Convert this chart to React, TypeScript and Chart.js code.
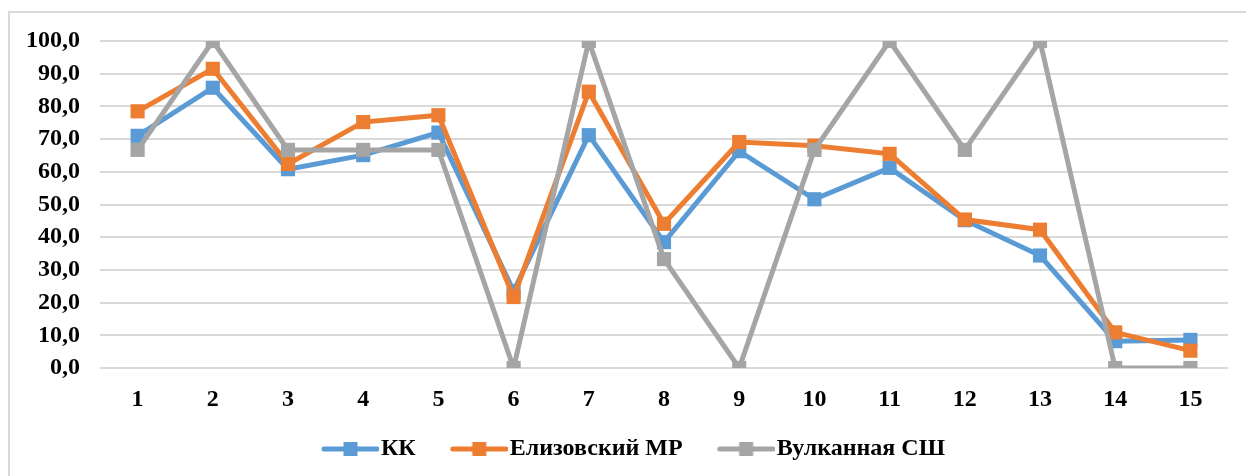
import React, { useEffect, useRef } from "react";
import { Chart, registerables } from "chart.js";

Chart.register(...registerables);

const categories = ["1", "2", "3", "4", "5", "6", "7", "8", "9", "10", "11", "12", "13", "14", "15"];
const seriesNames = ["КК", "Елизовский МР", "Вулканная СШ"];
const kkValues = [71.0, 85.7, 60.8, 65.1, 72.0, 23.5, 71.2, 38.5, 66.3, 51.6, 61.2, 45.2, 34.4, 8.2, 8.6];
const elizovskyValues = [78.5, 91.5, 62.4, 75.2, 77.3, 21.7, 84.5, 44.1, 69.1, 68.0, 65.5, 45.4, 42.3, 10.9, 5.3];
const vulkannayaValues = [66.7, 100, 66.7, 66.7, 66.7, 0, 100, 33.3, 0, 66.7, 100, 66.7, 100, 0, 0];
const yTickMin = 0;
const yTickMax = 100;
const yTickStep = 10;

const colors = ["#5B9BD5", "#ED7D31", "#A5A5A5"];
const FONT = "'Liberation Serif', 'Times New Roman', serif";

function legendIcon(color: string): HTMLCanvasElement {
  const c = document.createElement("canvas");
  c.width = 88;
  c.height = 20;
  const ctx = c.getContext("2d")!;
  ctx.strokeStyle = color;
  ctx.lineWidth = 5;
  ctx.lineCap = "round";
  ctx.beginPath();
  ctx.moveTo(33, 10);
  ctx.lineTo(86, 10);
  ctx.stroke();
  ctx.fillStyle = color;
  ctx.fillRect(59.5 - 7, 10 - 7, 14, 14);
  return c;
}

const borderPlugin = {
  id: "outerBorder",
  beforeDraw(chart: any) {
    const ctx = chart.ctx;
    ctx.save();
    ctx.fillStyle = "#ffffff";
    ctx.fillRect(0, 0, chart.width, chart.height);
    ctx.strokeStyle = "#d9d9d9";
    ctx.lineWidth = 2;
    ctx.beginPath();
    ctx.moveTo(9, chart.height + 5);
    ctx.lineTo(9, 12);
    ctx.lineTo(chart.width + 5, 12);
    ctx.stroke();
    ctx.restore();
  },
};

export default function App() {
  const ref = useRef<HTMLCanvasElement | null>(null);

  useEffect(() => {
    if (!ref.current) return;
    const icons = colors.map(legendIcon);
    const values = [kkValues, elizovskyValues, vulkannayaValues];
    const chart = new Chart(ref.current, {
      type: "line",
      data: {
        labels: categories,
        datasets: values.map((v, i) => ({
          label: seriesNames[i],
          data: v,
          borderColor: colors[i],
          backgroundColor: colors[i],
          borderWidth: 5,
          pointStyle: "rect",
          pointRadius: 10,
          pointBorderWidth: 0,
          pointBackgroundColor: colors[i],
          pointBorderColor: colors[i],
          tension: 0,
          fill: false,
          order: 2 - i,
        })),
      },
      options: {
        responsive: false,
        animation: false,
        events: [],
        layout: { padding: { top: 41, right: 18, bottom: 5, left: 18 } },
        scales: {
          x: {
            offset: true,
            grid: { display: false, drawTicks: false },
            border: { display: false },
            ticks: {
              color: "#000",
              padding: 17,
              font: { family: FONT, size: 24, weight: "bold" },
              maxRotation: 0,
              autoSkip: false,
            },
            afterFit: (scale: any) => {
              scale.height = 55;
            },
          },
          y: {
            min: yTickMin,
            max: yTickMax,
            grid: { color: "#d9d9d9", lineWidth: 2, drawTicks: false },
            border: { display: false },
            ticks: {
              stepSize: yTickStep,
              color: "#000",
              padding: 20,
              font: { family: FONT, size: 24, weight: "bold" },
              callback: (v: any) => Number(v).toFixed(1).replace(".", ","),
            },
            afterFit: (scale: any) => {
              scale.width = 82;
            },
          },
        },
        plugins: {
          tooltip: { enabled: false },
          legend: {
            position: "bottom",
            labels: {
              usePointStyle: true,
              pointStyleWidth: 68,
              padding: 14,
              color: "#000",
              font: { family: FONT, size: 24, weight: "bold" },
              generateLabels: (ch: any) =>
                ch.data.datasets.map((ds: any, i: number) => ({
                  text: ds.label,
                  fillStyle: colors[i],
                  strokeStyle: colors[i],
                  lineWidth: 0,
                  pointStyle: icons[i],
                  datasetIndex: i,
                  hidden: false,
                  fontColor: "#000",
                })),
            },
          },
        },
      },
      plugins: [borderPlugin],
    } as any);
    return () => chart.destroy();
  }, []);

  return (
    <div style={{ position: "absolute", left: 0, top: 0, width: 1246, height: 476, overflow: "hidden", background: "#fff" }}>
      <canvas ref={ref} width={1246} height={476} style={{ width: 1246, height: 476, display: "block" }} />
    </div>
  );
}
